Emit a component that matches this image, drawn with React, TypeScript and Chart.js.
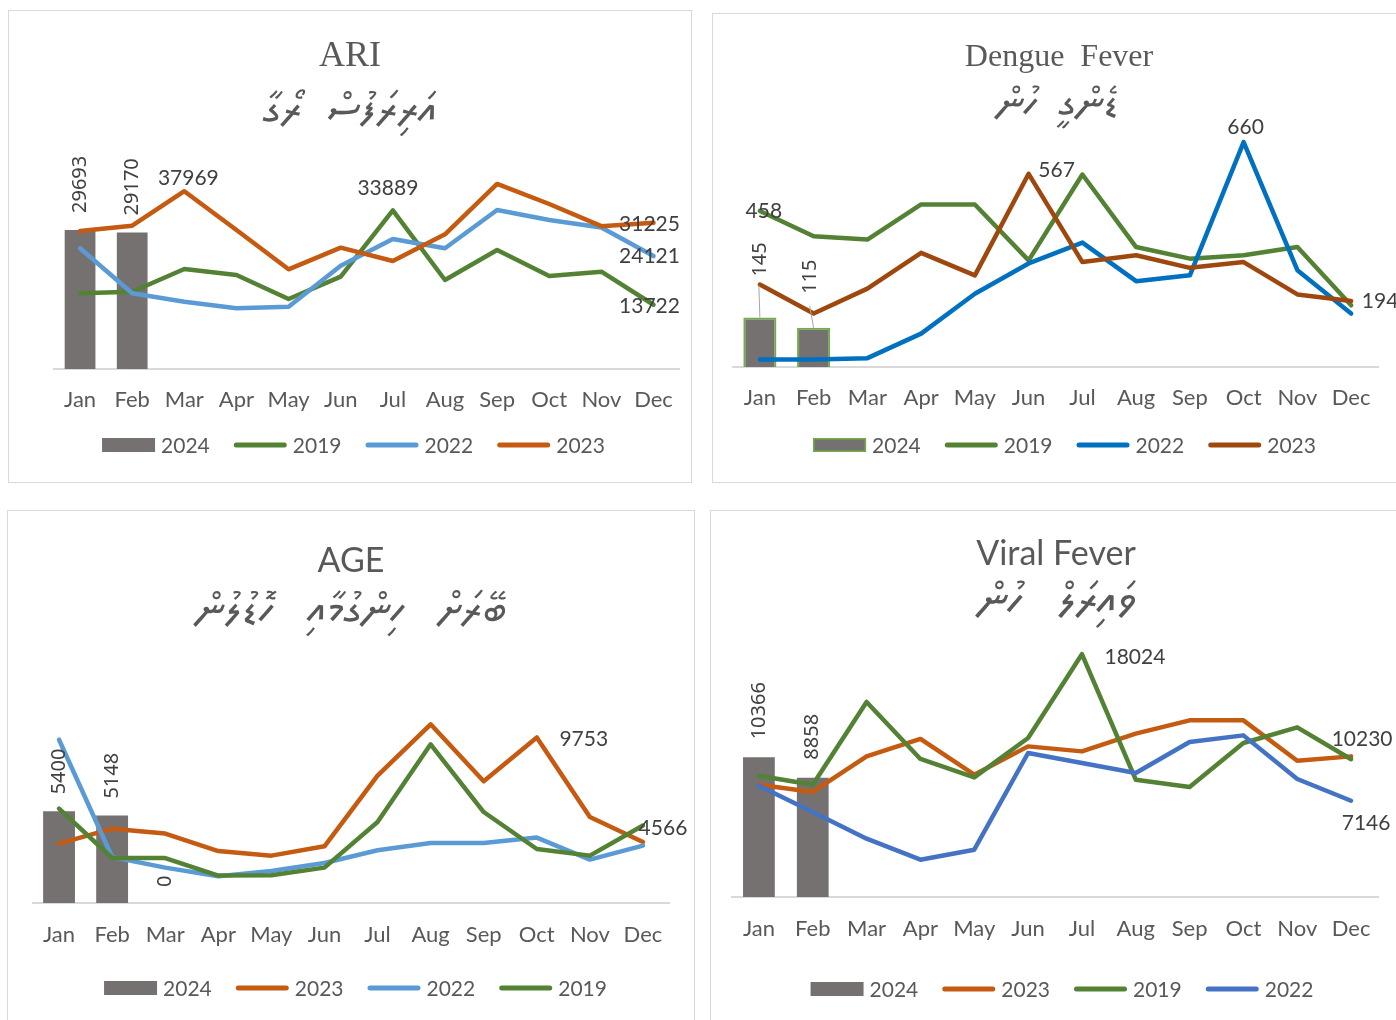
import React, { useEffect, useRef } from "react";
import { Chart, registerables } from "chart.js";

Chart.register(...registerables);

// ---------- data ----------
const MONTHS = ["Jan", "Feb", "Mar", "Apr", "May", "Jun", "Jul", "Aug", "Sep", "Oct", "Nov", "Dec"];

// ARI
const ARI_2024 = [29693, 29170, null, null, null, null, null, null, null, null, null, null];
const ARI_2019 = [16170, 16510, 21360, 20080, 14950, 19720, 33889, 19010, 25420, 19860, 20780, 13722];
const ARI_2022 = [25780, 16170, 14380, 12960, 13310, 22070, 27770, 25780, 33960, 31830, 30200, 24121];
const ARI_2023 = [29480, 30610, 37969, 29690, 21290, 25910, 23070, 28770, 39520, 35240, 30500, 31225];

// Dengue Fever
const DF_2024 = [145, 115, null, null, null, null, null, null, null, null, null, null];
const DF_2019 = [458, 384, 374, 477, 477, 313, 565, 352, 318, 328, 352, 181];
const DF_2022 = [22, 22, 26, 98, 215, 304, 365, 252, 269, 660, 284, 157];
const DF_2023 = [242, 157, 230, 335, 269, 567, 308, 328, 291, 308, 213, 194];

// AGE
const AGE_2024 = [5400, 5148, 0, null, null, null, null, null, null, null, null, null];
const AGE_2023 = [3500, 4380, 4090, 3060, 2790, 3340, 7500, 10525, 7170, 9753, 5065, 3590];
const AGE_2022 = [9620, 2710, 2085, 1573, 1885, 2356, 3104, 3534, 3534, 3852, 2556, 3381];
const AGE_2019 = [5560, 2650, 2650, 1614, 1631, 2085, 4771, 9347, 5360, 3180, 2790, 4566];

// Viral Fever
const VF_2024 = [10366, 8858, null, null, null, null, null, null, null, null, null, null];
const VF_2023 = [8338, 7796, 10440, 11731, 9081, 11182, 10811, 12125, 13113, 13113, 10120, 10440];
const VF_2019 = [9007, 8338, 14479, 10247, 8880, 11806, 18024, 8710, 8168, 11435, 12593, 10230];
const VF_2022 = [8264, 6311, 4329, 2770, 3512, 10692, 9950, 9207, 11509, 11999, 8762, 7146];

// ---------- styles ----------
const SANS = "Lato, 'Noto Sans', sans-serif";
const SERIF = "'Liberation Serif', 'DejaVu Serif', serif";
const ROT = "'Noto Sans', 'DejaVu Sans', sans-serif";
const THAANA = "'Noto Sans Thaana', 'MV Faseyha', FreeSerif, 'DejaVu Sans', sans-serif";
const GRAY_TEXT = "#595959";
const LABEL_TEXT = "#404040";
const BAR_GRAY = "#767171";

type LineDef = { label: string; data: (number | null)[]; color: string };
type Panel = {
  key: string;
  box: { left: number; top: number; width: number; height: number };
  title: { text: string; x: number; y: number; font: string };
  subtitle: { text: string; x: number; y: number; font: string };
  pad: { left: number; right: number; top: number; bottom: number };
  tickPad: number;
  yMax: number;
  barPct: number;
  bar: { label: string; data: (number | null)[]; color: string; border?: string };
  lines: LineDef[];
  legend: { x: number; y: number; order: string[] };
  barLabels: { series: string; idx: number; dx?: number; dy: number; leader?: number }[];
  lineLabels: { series: string; idx: number; dx: number; dy: number }[];
};

const PANELS: Panel[] = [
  {
    key: "ari",
    box: { left: 8, top: 10, width: 684, height: 473 },
    title: { text: "ARI", x: 350, y: 57, font: `36px ${SERIF}` },
    subtitle: { text: "އަރިރަފުސް  ރޯގާ", x: 350, y: 113, font: `44px ${THAANA}` },
    pad: { left: 45, right: 8, top: 147.3, bottom: 51 },
    tickPad: 17.8,
    yMax: 45000,
    barPct: 0.59,
    bar: { label: "2024", data: ARI_2024, color: BAR_GRAY },
    lines: [
      { label: "2019", data: ARI_2019, color: "#548235" },
      { label: "2022", data: ARI_2022, color: "#5b9bd5" },
      { label: "2023", data: ARI_2023, color: "#c55a11" },
    ],
    legend: { x: 353.5, y: 445, order: ["2024", "2019", "2022", "2023"] },
    barLabels: [
      { series: "2024", idx: 0, dy: -17 },
      { series: "2024", idx: 1, dy: -17 },
    ],
    lineLabels: [
      { series: "2023", idx: 2, dx: 4, dy: -13 },
      { series: "2019", idx: 6, dx: -5, dy: -22 },
      { series: "2023", idx: 11, dx: -4, dy: 1 },
      { series: "2022", idx: 11, dx: -4, dy: 0 },
      { series: "2019", idx: 11, dx: -4, dy: 1 },
    ],
  },
  {
    key: "dengue",
    box: { left: 712, top: 13, width: 695, height: 470 },
    title: { text: "Dengue  Fever", x: 1059, y: 58, font: `32px ${SERIF}` },
    subtitle: { text: "ޑެންގީ  ހުން", x: 1058, y: 107, font: `42px ${THAANA}` },
    pad: { left: 20, right: 28, top: 114.5, bottom: 53 },
    tickPad: 17.8,
    yMax: 700,
    barPct: 0.616,
    bar: { label: "2024", data: DF_2024, color: BAR_GRAY, border: "#70ad47" },
    lines: [
      { label: "2019", data: DF_2019, color: "#548235" },
      { label: "2022", data: DF_2022, color: "#0070c0" },
      { label: "2023", data: DF_2023, color: "#9e480e" },
    ],
    legend: { x: 1064.5, y: 445, order: ["2024", "2019", "2022", "2023"] },
    barLabels: [
      { series: "2024", idx: 0, dx: 0, dy: -41, leader: 9 },
      { series: "2024", idx: 1, dx: -3, dy: -34, leader: 12 },
    ],
    lineLabels: [
      { series: "2019", idx: 0, dx: 4, dy: 0 },
      { series: "2023", idx: 5, dx: 28, dy: -4 },
      { series: "2022", idx: 9, dx: 2, dy: -15 },
      { series: "2023", idx: 11, dx: 29, dy: 0 },
    ],
  },
  {
    key: "age",
    box: { left: 7, top: 510, width: 688, height: 520 },
    title: { text: "AGE", x: 351, y: 561, font: `34px ${SANS}` },
    subtitle: { text: "ބޭރަށް   ހިންގުމާއި   ހޮޑުލުން", x: 351, y: 613, font: `44px ${THAANA}` },
    pad: { left: 24.5, right: 24.5, top: 188.3, bottom: 62 },
    tickPad: 18.8,
    yMax: 12000,
    barPct: 0.6,
    bar: { label: "2024", data: AGE_2024, color: BAR_GRAY },
    lines: [
      { label: "2023", data: AGE_2023, color: "#c55a11" },
      { label: "2022", data: AGE_2022, color: "#5b9bd5" },
      { label: "2019", data: AGE_2019, color: "#548235" },
    ],
    legend: { x: 355.5, y: 988, order: ["2024", "2023", "2022", "2019"] },
    barLabels: [
      { series: "2024", idx: 0, dy: -17 },
      { series: "2024", idx: 1, dy: -17 },
      { series: "2024", idx: 2, dy: -16 },
    ],
    lineLabels: [
      { series: "2023", idx: 9, dx: 47, dy: 2 },
      { series: "2019", idx: 11, dx: 20, dy: 3 },
    ],
  },
  {
    key: "viral",
    box: { left: 710, top: 510, width: 697, height: 520 },
    title: { text: "Viral Fever", x: 1056, y: 554, font: `34px ${SANS}` },
    subtitle: { text: "ވައިރަލް   ހުން", x: 1057, y: 604, font: `46px ${THAANA}` },
    pad: { left: 21, right: 28, top: 116.6, bottom: 68 },
    tickPad: 18.8,
    yMax: 20000,
    barPct: 0.59,
    bar: { label: "2024", data: VF_2024, color: BAR_GRAY },
    lines: [
      { label: "2023", data: VF_2023, color: "#c55a11" },
      { label: "2019", data: VF_2019, color: "#548235" },
      { label: "2022", data: VF_2022, color: "#4472c4" },
    ],
    legend: { x: 1062, y: 989, order: ["2024", "2023", "2019", "2022"] },
    barLabels: [
      { series: "2024", idx: 0, dy: -18 },
      { series: "2024", idx: 1, dy: -18 },
    ],
    lineLabels: [
      { series: "2019", idx: 6, dx: 53, dy: 3 },
      { series: "2019", idx: 11, dx: 11, dy: -20 },
      { series: "2022", idx: 11, dx: 15, dy: 22 },
    ],
  },
];

// ---------- plugin: titles, data labels, legend ----------
const decorPlugin = {
  id: "decor",
  afterDatasetsDraw(chart: any, _args: any, opts: any) {
    const ctx = chart.ctx as CanvasRenderingContext2D;
    const findDs = (name: string) => chart.data.datasets.findIndex((d: any) => d.label === name);
    ctx.save();
    for (const l of opts.barLabels || []) {
      const di = findDs(l.series);
      const el = chart.getDatasetMeta(di).data[l.idx];
      const v = chart.data.datasets[di].data[l.idx];
      if (!el) continue;
      const x = el.x + (l.dx || 0);
      const yb = el.y + l.dy;
      if (l.leader) {
        ctx.strokeStyle = "#a6a6a6";
        ctx.lineWidth = 1;
        ctx.beginPath();
        ctx.moveTo(el.x, el.y);
        ctx.lineTo(x - 1, yb + l.leader);
        ctx.stroke();
      }
      ctx.save();
      ctx.translate(x, yb);
      ctx.rotate(-Math.PI / 2);
      ctx.font = `20px ${ROT}`;
      ctx.fillStyle = LABEL_TEXT;
      ctx.textAlign = "left";
      ctx.textBaseline = "middle";
      ctx.fillText(String(v), 0, 0);
      ctx.restore();
    }
    for (const l of opts.lineLabels || []) {
      const di = findDs(l.series);
      const el = chart.getDatasetMeta(di).data[l.idx];
      const v = chart.data.datasets[di].data[l.idx];
      if (!el) continue;
      ctx.font = `21px ${SANS}`;
      ctx.fillStyle = LABEL_TEXT;
      ctx.textAlign = "center";
      ctx.textBaseline = "middle";
      ctx.fillText(String(v), el.x + l.dx, el.y + l.dy);
    }
    ctx.restore();
  },
  afterDraw(chart: any, _args: any, opts: any) {
    const ctx = chart.ctx as CanvasRenderingContext2D;
    const ox = opts.originX;
    const oy = opts.originY;
    ctx.save();
    ctx.fillStyle = GRAY_TEXT;
    ctx.textAlign = "center";
    ctx.textBaseline = "middle";
    ctx.font = opts.title.font;
    ctx.fillText(opts.title.text, opts.title.x - ox, opts.title.y - oy);
    ctx.font = opts.subtitle.font;
    ctx.fillText(opts.subtitle.text, opts.subtitle.x - ox, opts.subtitle.y - oy);

    // legend
    const BOX = 53;
    const GAP = 6;
    const SPACE = 24;
    ctx.font = `21px ${SANS}`;
    const items = opts.legend.order.map((name: string) => {
      const ds = chart.data.datasets.find((d: any) => d.label === name);
      return { name, ds, tw: ctx.measureText(name).width };
    });
    const total =
      items.reduce((s: number, it: any) => s + BOX + GAP + it.tw, 0) + SPACE * (items.length - 1);
    let x = opts.legend.x - ox - total / 2;
    const y = opts.legend.y - oy;
    for (const it of items) {
      if (it.ds.type === "bar") {
        ctx.fillStyle = it.ds.backgroundColor;
        ctx.fillRect(x, y - 7, BOX, 14);
        if (it.ds.borderWidth) {
          ctx.strokeStyle = it.ds.borderColor;
          ctx.lineWidth = 1.5;
          ctx.strokeRect(x + 0.75, y - 6.25, BOX - 1.5, 12.5);
        }
      } else {
        ctx.strokeStyle = it.ds.borderColor;
        ctx.lineWidth = 5;
        ctx.lineCap = "round";
        ctx.beginPath();
        ctx.moveTo(x + 2.5, y);
        ctx.lineTo(x + BOX - 2.5, y);
        ctx.stroke();
      }
      ctx.fillStyle = GRAY_TEXT;
      ctx.textAlign = "left";
      ctx.textBaseline = "middle";
      ctx.fillText(it.name, x + BOX + GAP, y + 1);
      x += BOX + GAP + it.tw + SPACE;
    }
    ctx.restore();
  },
};

function buildConfig(p: Panel): any {
  const n = p.lines.length;
  const datasets: any[] = [
    {
      type: "bar",
      label: p.bar.label,
      data: p.bar.data,
      backgroundColor: p.bar.color,
      borderColor: p.bar.border || p.bar.color,
      borderWidth: p.bar.border ? 2 : 0,
      barPercentage: p.barPct,
      categoryPercentage: 1,
      order: 100,
    },
    ...p.lines.map((l, i) => ({
      type: "line",
      label: l.label,
      data: l.data,
      borderColor: l.color,
      backgroundColor: l.color,
      borderWidth: 4.5,
      borderCapStyle: "round",
      borderJoinStyle: "round",
      pointRadius: 0,
      pointHoverRadius: 0,
      tension: 0,
      fill: false,
      order: n - i,
    })),
  ];
  return {
    type: "bar",
    data: { labels: MONTHS, datasets },
    options: {
      responsive: false,
      animation: false,
      devicePixelRatio: 1,
      layout: { padding: p.pad },
      scales: {
        x: {
          type: "category",
          offset: true,
          grid: { display: false, drawTicks: false },
          border: { display: true, color: "#d9d9d9", width: 2 },
          ticks: {
            color: GRAY_TEXT,
            font: { family: SANS, size: 22 },
            padding: p.tickPad,
            maxRotation: 0,
            autoSkip: false,
          },
        },
        y: { display: false, min: 0, max: p.yMax },
      },
      plugins: {
        legend: { display: false },
        tooltip: { enabled: false },
        title: { display: false },
        decor: {
          originX: p.box.left + 1,
          originY: p.box.top + 1,
          title: p.title,
          subtitle: p.subtitle,
          legend: p.legend,
          barLabels: p.barLabels,
          lineLabels: p.lineLabels,
        },
      },
    },
    plugins: [decorPlugin],
  };
}

function ChartPanel({ panel }: { panel: Panel }) {
  const ref = useRef<HTMLCanvasElement | null>(null);
  const w = panel.box.width - 2;
  const h = panel.box.height - 2;
  useEffect(() => {
    if (!ref.current) return;
    const chart = new Chart(ref.current, buildConfig(panel));
    return () => chart.destroy();
  }, [panel]);
  return (
    <div
      style={{
        position: "absolute",
        left: panel.box.left,
        top: panel.box.top,
        width: panel.box.width,
        height: panel.box.height,
        border: "1px solid #d9d9d9",
        boxSizing: "border-box",
        background: "#ffffff",
      }}
    >
      <canvas ref={ref} width={w} height={h} style={{ display: "block", width: w, height: h }} />
    </div>
  );
}

export default function App() {
  return (
    <div
      style={{
        position: "absolute",
        left: 0,
        top: 0,
        width: 1396,
        height: 1020,
        overflow: "hidden",
        background: "#ffffff",
      }}
    >
      {PANELS.map((p) => (
        <ChartPanel key={p.key} panel={p} />
      ))}
    </div>
  );
}
